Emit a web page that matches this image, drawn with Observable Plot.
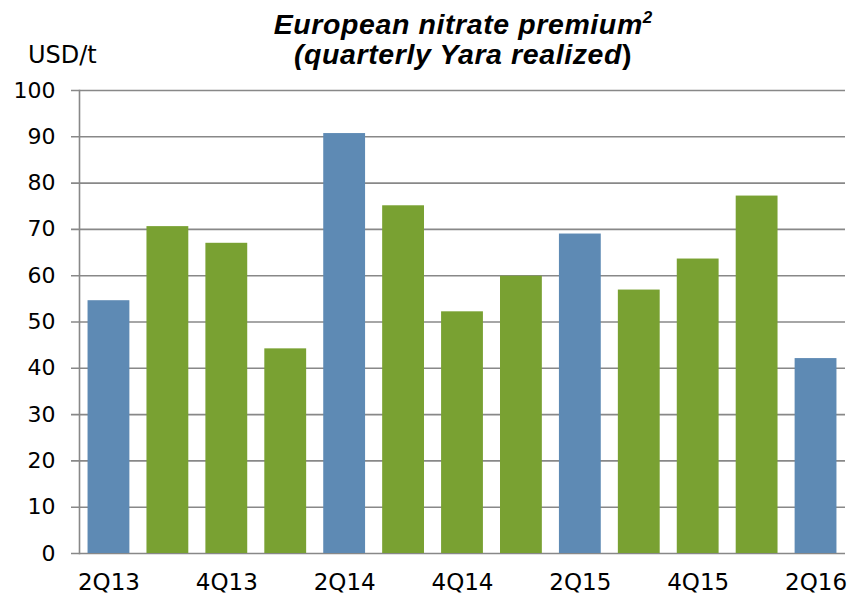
<!DOCTYPE html>
<html><head><meta charset="utf-8">
<script src="https://cdn.jsdelivr.net/npm/d3@7"></script>
<script src="https://cdn.jsdelivr.net/npm/@observablehq/plot@0.6"></script>
<style>
body{margin:0;background:#fff;overflow:hidden;}
#wrap{position:relative;width:850px;height:596px;}
#head{position:relative;height:70px;}
.t{position:absolute;left:113px;width:700px;text-align:center;font-family:"Liberation Sans",Arial,sans-serif;font-weight:bold;font-style:italic;font-size:28.5px;letter-spacing:0.6px;line-height:31px;color:#000;white-space:nowrap;}
.t .sup{font-size:17px;position:relative;top:-11px;letter-spacing:0;}
.u{position:absolute;left:28px;top:43px;font-family:"DejaVu Sans",sans-serif;font-size:24px;line-height:24px;color:#000;}
</style></head>
<body>
<div id="wrap">
<div id="head">
<div class="t" style="top:9px">European nitrate premium<span class="sup">2</span></div>
<div class="t" style="top:39px">(quarterly Yara realized<span style="font-style:normal">)</span></div>
<div class="u">USD/t</div>
</div>
<div id="chart"></div>
</div>
<script>
const quarters = ["2Q13","3Q13","4Q13","1Q14","2Q14","3Q14","4Q14","1Q15","2Q15","3Q15","4Q15","1Q16","2Q16"];
const premium = [54.6,70.6,67.0,44.2,90.7,75.1,52.2,59.9,69.0,56.9,63.6,77.2,42.1];
const tickLabels = ["2Q13","4Q13","2Q14","4Q14","2Q15","4Q15","2Q16"];
const yTicks = [0,10,20,30,40,50,60,70,80,90,100];
const blue = "#5E8AB4", green = "#79A132", grid = "#888888";

const data = quarters.map((q, i) => ({quarter: q, value: premium[i]}));

const chart = Plot.plot({
  width: 850,
  height: 526,
  marginTop: 20,
  marginBottom: 43,
  marginLeft: 79,
  marginRight: 5,
  style: {fontFamily: "DejaVu Sans, sans-serif", color: "#000", background: "transparent", overflow: "visible"},
  x: {domain: quarters, paddingInner: 0.29, paddingOuter: 0.145, round: false, label: null},
  y: {domain: [0, 100], label: null},
  marks: [
    Plot.ruleY(yTicks, {stroke: grid, strokeWidth: 1.6, insetLeft: -8}),
    Plot.barY(data, {x: "quarter", y: "value", fill: d => d.quarter.startsWith("2Q") ? blue : green}),
    Plot.frame({anchor: "left", stroke: grid, strokeWidth: 1.6}),
    Plot.axisY({ticks: yTicks, tickSize: 0, tickPadding: 24, fontSize: 22, label: null, fill: "#000"}),
    Plot.axisX({ticks: tickLabels, tickSize: 0, tickPadding: 20, fontSize: 23, label: null, fill: "#000"})
  ]
});
document.getElementById("chart").appendChild(chart);
</script>
</body></html>
